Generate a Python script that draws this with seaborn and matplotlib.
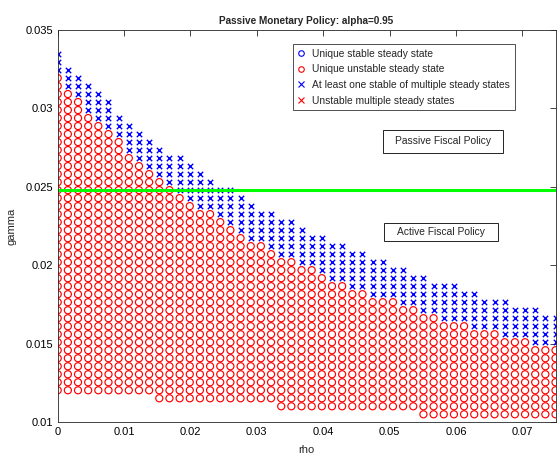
import numpy as np
import pandas as pd
import matplotlib
matplotlib.use("Agg")
import matplotlib.pyplot as plt
from matplotlib.lines import Line2D
from matplotlib.patches import Rectangle
import seaborn as sns

# Parameter grid
rho = np.linspace(0.0, 0.075, 50)
gamma = np.linspace(0.01, 0.035, 50)

# For every rho column: index (into gamma) of the lowest point with a solution,
# of the highest "unique unstable" point and of the highest "multiple" point
lowest_row = [4, 4, 4, 4, 4, 4, 4, 4, 4, 4,
              3, 3, 3, 3, 3, 3, 3, 3, 3, 3, 3, 3,
              2, 2, 2, 2, 2, 2, 2, 2, 2, 2, 2, 2, 2, 2,
              1, 1, 1, 1, 1, 1, 1, 1, 1, 1, 1, 1, 1, 1]
unstable_top = [43, 41, 40, 38, 37, 36, 35, 33, 32, 31,
                30, 29, 28, 27, 26, 26, 25, 24, 23, 22,
                22, 21, 20, 20, 19, 19, 18, 17, 17, 16,
                16, 15, 15, 15, 14, 14, 13, 13, 12, 12,
                12, 11, 11, 11, 10, 10, 10, 9, 9, 9]
multiple_top = [46, 44, 43, 42, 41, 40, 38, 37, 36, 35,
                34, 33, 33, 32, 31, 30, 29, 29, 28, 27,
                26, 26, 25, 25, 24, 23, 23, 22, 22, 21,
                21, 20, 20, 19, 19, 18, 18, 17, 17, 17,
                16, 16, 15, 15, 15, 14, 14, 14, 13, 13]

fiscal_threshold = 0.0248

legend_labels = ["Unique stable steady state",
                 "Unique unstable steady state",
                 "At least one stable of multiple steady states",
                 "Unstable multiple steady states"]

records = []
for i, r in enumerate(rho):
    for k in range(lowest_row[i], multiple_top[i] + 1):
        state = "unstable" if k <= unstable_top[i] else "multiple"
        records.append((r, gamma[k], state))
df = pd.DataFrame(records, columns=["rho", "gamma", "state"])

sns.set_style("white")
plt.rcParams["font.family"] = ["Liberation Sans", "DejaVu Sans"]

W, H = 557, 455
fig = plt.figure(figsize=(W / 100, H / 100), dpi=100)
x0, x1, y0, y1 = 57.7, 555.5, 30.0, 422.3
ax = fig.add_axes([x0 / W, 1 - y1 / H, (x1 - x0) / W, (y1 - y0) / H])

RED = "#ff0000"
BLUE = "#0000ff"

sns.scatterplot(data=df[df.state == "unstable"], x="rho", y="gamma", ax=ax,
                marker="o", s=26, color=RED, facecolors="none", edgecolor=RED,
                linewidth=0.85, legend=False)
sns.scatterplot(data=df[df.state == "multiple"], x="rho", y="gamma", ax=ax,
                marker="x", s=15, color=BLUE, linewidth=1.0, legend=False)

ax.axhline(fiscal_threshold, color="#00ff00", linewidth=2.2)

ax.set_xlim(0, 0.075)
ax.set_ylim(0.01, 0.035)
ax.set_xticks([0, 0.01, 0.02, 0.03, 0.04, 0.05, 0.06, 0.07])
ax.set_xticklabels(["0", "0.01", "0.02", "0.03", "0.04", "0.05", "0.06", "0.07"])
ax.set_yticks([0.01, 0.015, 0.02, 0.025, 0.03, 0.035])
ax.set_yticklabels(["0.01", "0.015", "0.02", "0.025", "0.03", "0.035"])
ax.tick_params(direction="in", length=4, width=0.6, labelsize=8,
               top=True, right=True, colors="#262626", labelcolor="black")
for sp in ax.spines.values():
    sp.set_linewidth(0.6)
    sp.set_color("#262626")
    sp.set_visible(True)

ax.set_xlabel("rho", fontsize=8, labelpad=6)
ax.set_ylabel("gamma", fontsize=8, labelpad=6)
ax.set_title("Passive Monetary Policy: alpha=0.95", fontsize=7.2,
             fontweight="bold", pad=4)

handles = [
    Line2D([], [], linestyle="none", marker="o", markersize=4,
           markerfacecolor="none", markeredgecolor=BLUE, markeredgewidth=0.8),
    Line2D([], [], linestyle="none", marker="o", markersize=4,
           markerfacecolor="none", markeredgecolor=RED, markeredgewidth=0.8),
    Line2D([], [], linestyle="none", marker="x", markersize=4,
           color=BLUE, markeredgewidth=0.8),
    Line2D([], [], linestyle="none", marker="x", markersize=4,
           color=RED, markeredgewidth=0.8),
]
leg = ax.legend(handles, legend_labels, loc="upper left",
                bbox_to_anchor=(293 / W, 1 - 44 / H), bbox_transform=fig.transFigure,
                prop={"size": 7.4}, frameon=True, fancybox=False,
                handlelength=0.6, handletextpad=0.8, borderpad=0.45,
                labelspacing=0.55, borderaxespad=0)
leg.get_frame().set_edgecolor("black")
leg.get_frame().set_linewidth(0.6)

# Annotation boxes for the two fiscal regimes
for (bx0, bx1, by0, by1), label in [((0.04901, 0.06709, 0.02716, 0.02863), "Passive Fiscal Policy"),
                                    ((0.04916, 0.06634, 0.02155, 0.02270), "Active Fiscal Policy")]:
    ax.add_patch(Rectangle((bx0, by0), bx1 - bx0, by1 - by0, facecolor="white",
                           edgecolor="black", linewidth=0.6, zorder=5))
    ax.text((bx0 + bx1) / 2, (by0 + by1) / 2, label, fontsize=7.4,
            ha="center", va="center", zorder=6)

fig.savefig("out.png", dpi=100)
